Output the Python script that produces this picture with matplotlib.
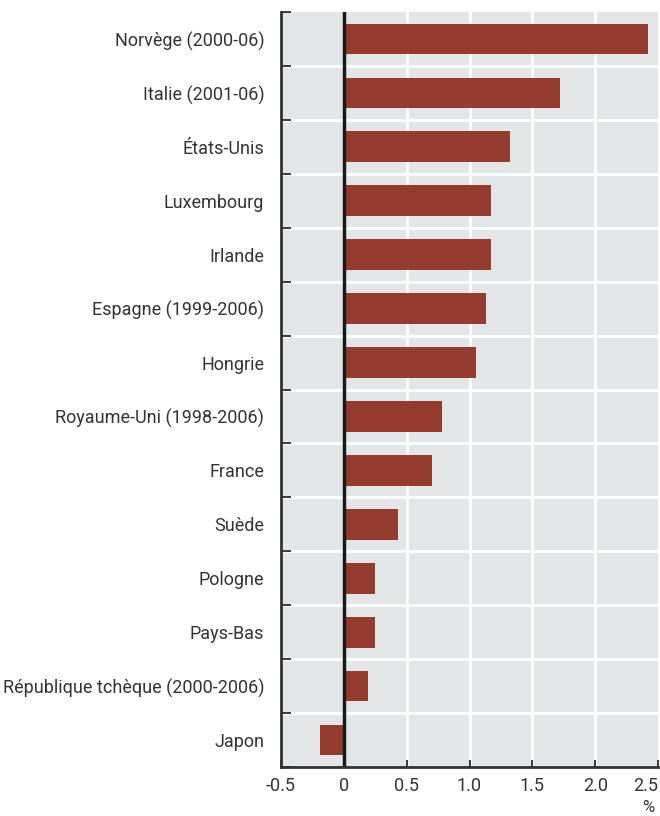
import matplotlib
matplotlib.use("Agg")
import matplotlib.pyplot as plt
import numpy as np

categories = ["Norvège (2000-06)", "Italie (2001-06)", "États-Unis", "Luxembourg",
              "Irlande", "Espagne (1999-2006)", "Hongrie", "Royaume-Uni (1998-2006)",
              "France", "Suède", "Pologne", "Pays-Bas",
              "République tchèque (2000-2006)", "Japon"]
values = [2.42, 1.72, 1.32, 1.17, 1.17, 1.13, 1.05, 0.78, 0.70, 0.43, 0.25, 0.25, 0.19, -0.19]
xticks = [-0.5, 0, 0.5, 1.0, 1.5, 2.0, 2.5]
xticklabels = ["-0.5", "0", "0.5", "1.0", "1.5", "2.0", "2.5"]

plt.rcParams['font.family'] = ['Roboto', 'DejaVu Sans']
txt = "#333333"
fs = 13

fig = plt.figure(figsize=(6.6, 8.16), dpi=100)
ax = fig.add_axes([281/660, 1-767/816, (658-281)/660, (767-12)/816])
ax.set_facecolor("#e4e5e7")

n = len(categories)
y = np.arange(n)
ax.barh(y, values, height=0.57, color="#953b2f", zorder=3)
ax.set_ylim(n - 0.5, -0.5)
ax.set_xlim(-0.5, 2.5)

# gridlines
for xv in xticks[1:-1]:
    ax.axvline(xv, color="white", lw=2, zorder=1)
for b in np.arange(0.5, n - 1, 1):
    ax.axhline(b, color="white", lw=2, zorder=1)
ax.axvline(0, color="#1a1a1a", lw=2.5, zorder=4)

ax.set_yticks(y)
ax.set_yticklabels(categories, fontsize=fs, color=txt)
ax.tick_params(axis="y", length=0, pad=12)
ax.set_yticks(np.arange(-0.5, n, 1), minor=True)
ax.tick_params(axis="y", which="minor", direction="in", length=7, width=1.2, color="#1a1a1a")

ax.set_xticks(xticks)
ax.set_xticklabels(xticklabels, fontsize=fs, color=txt)
ax.tick_params(axis="x", direction="in", length=5, width=1.2, color="#1a1a1a", pad=7)
labs = ax.get_xticklabels()
labs[-1].set_ha("right")

for s in ["top", "right"]:
    ax.spines[s].set_visible(False)
for s in ["left", "bottom"]:
    ax.spines[s].set_color("#333333")
    ax.spines[s].set_linewidth(2)
    ax.spines[s].set_zorder(5)

fig.text(648/660, 1-808/816, "%", fontsize=fs - 1, color=txt, ha="center", va="center")

fig.savefig("out.png", dpi=100)
